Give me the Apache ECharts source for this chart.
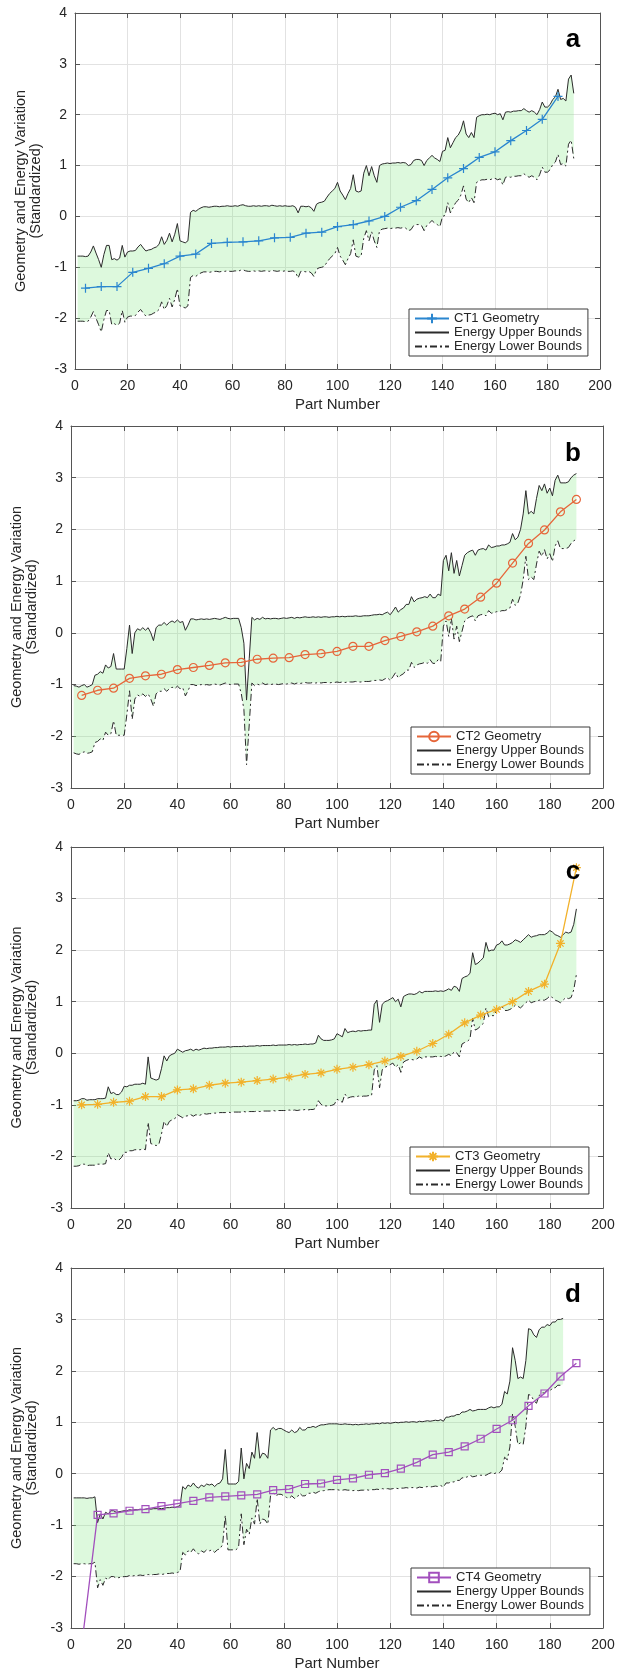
<!DOCTYPE html>
<html><head><meta charset="utf-8">
<script src="https://cdn.jsdelivr.net/npm/echarts@6/dist/echarts.min.js"></script>
<style>html,body{margin:0;padding:0;background:#fff}#c{width:626px;height:1672px}</style>
</head><body><div id="c"></div>
<script>
// ---------------- DATA ----------------
const xTicks = [0, 20, 40, 60, 80, 100, 120, 140, 160, 180, 200];
const yTicks = [-3, -2, -1, 0, 1, 2, 3, 4];
const energyParts = Array.from({length: 190}, (_, i) => i + 1);
const geometryParts = [4,10,16,22,28,34,40,46,52,58,64,70,76,82,88,94,100,106,112,118,124,130,136,142,148,154,160,166,172,178,184,190];

const ct1Geometry = [-1.41,-1.38,-1.38,-1.1,-1.02,-0.93,-0.78,-0.74,-0.53,-0.51,-0.5,-0.48,-0.42,-0.41,-0.33,-0.31,-0.2,-0.16,-0.09,0.0,0.18,0.31,0.53,0.76,0.94,1.16,1.27,1.49,1.69,1.91,2.36];
const ct2Geometry = [-1.21,-1.11,-1.07,-0.88,-0.83,-0.8,-0.71,-0.67,-0.63,-0.58,-0.57,-0.51,-0.49,-0.48,-0.42,-0.4,-0.36,-0.26,-0.26,-0.15,-0.07,0.02,0.13,0.33,0.46,0.69,0.96,1.35,1.73,1.99,2.34,2.58];
const ct3Geometry = [-1.0,-0.99,-0.95,-0.93,-0.84,-0.84,-0.71,-0.69,-0.62,-0.58,-0.56,-0.53,-0.5,-0.46,-0.41,-0.38,-0.31,-0.27,-0.22,-0.15,-0.06,0.04,0.19,0.37,0.59,0.74,0.85,1.0,1.2,1.34,2.13,3.6];
const ct4Geometry = [-3.35,-0.8,-0.77,-0.72,-0.69,-0.63,-0.58,-0.53,-0.46,-0.44,-0.42,-0.4,-0.32,-0.3,-0.2,-0.19,-0.12,-0.09,-0.02,0.01,0.1,0.22,0.37,0.42,0.53,0.68,0.87,1.04,1.32,1.56,1.89,2.15];

const ct1EnergyUpper = [
-0.78,-0.78,-0.78,-0.79,-0.78,-0.7,-0.58,-0.72,-0.85,-1.0,
-0.75,-0.57,-0.57,-0.85,-0.83,-0.86,-0.82,-0.57,-0.8,-0.7,
-0.68,-0.68,-0.67,-0.6,-0.55,-0.62,-0.68,-0.66,-0.65,-0.62,
-0.6,-0.55,-0.4,-0.55,-0.47,-0.33,-0.5,-0.35,-0.14,-0.48,
-0.5,-0.52,-0.48,0.08,0.12,0.1,0.14,0.17,0.19,0.19,
0.18,0.19,0.2,0.2,0.19,0.2,0.2,0.21,0.2,0.2,
0.21,0.2,0.22,0.23,0.21,0.2,0.2,0.21,0.2,0.21,
0.2,0.21,0.21,0.2,0.22,0.21,0.2,0.21,0.2,0.21,
0.2,0.2,0.21,0.18,0.07,0.2,0.2,0.19,0.2,0.17,
0.1,0.24,0.27,0.28,0.3,0.38,0.45,0.5,0.55,0.67,
0.5,0.42,0.33,0.45,0.55,0.82,0.5,0.48,0.5,0.85,
1.0,0.8,0.98,0.8,0.67,1.0,1.03,1.04,1.05,1.04,
1.05,1.05,1.06,1.05,1.06,1.05,1.0,1.02,1.1,1.12,
1.12,1.1,1.0,1.1,1.15,1.2,1.15,1.12,1.08,1.28,
1.3,1.55,1.35,1.45,1.55,1.6,1.7,1.88,1.62,1.55,
1.65,1.55,1.95,1.98,2.0,2.0,2.01,2.0,2.02,2.03,
2.0,2.02,1.9,2.05,2.06,2.05,2.07,2.07,2.08,2.08,
2.12,2.08,2.05,2.08,2.05,2.0,2.1,2.25,2.15,2.15,
2.2,2.3,2.35,2.5,2.3,2.32,2.27,2.7,2.78,2.42];
const ct1EnergyLower = [
-2.06,-2.06,-2.06,-2.07,-2.06,-1.98,-1.87,-2.0,-2.13,-2.27,
-2.03,-1.85,-1.85,-2.13,-2.11,-2.14,-2.1,-1.85,-2.08,-1.98,
-1.96,-1.96,-1.95,-1.88,-1.83,-1.9,-1.96,-1.94,-1.93,-1.9,
-1.88,-1.83,-1.68,-1.83,-1.75,-1.61,-1.78,-1.63,-1.42,-1.76,
-1.78,-1.8,-1.76,-1.2,-1.16,-1.18,-1.14,-1.11,-1.09,-1.09,
-1.1,-1.09,-1.08,-1.08,-1.09,-1.08,-1.08,-1.07,-1.08,-1.08,
-1.07,-1.08,-1.06,-1.05,-1.07,-1.08,-1.08,-1.07,-1.08,-1.07,
-1.08,-1.07,-1.07,-1.08,-1.06,-1.07,-1.08,-1.07,-1.08,-1.07,
-1.08,-1.08,-1.07,-1.1,-1.21,-1.08,-1.08,-1.09,-1.08,-1.11,
-1.18,-1.04,-1.01,-1.0,-0.98,-0.9,-0.83,-0.78,-0.73,-0.61,
-0.78,-0.86,-0.95,-0.83,-0.73,-0.46,-0.78,-0.8,-0.78,-0.43,
-0.28,-0.48,-0.3,-0.48,-0.61,-0.28,-0.25,-0.24,-0.23,-0.24,
-0.23,-0.23,-0.22,-0.23,-0.22,-0.23,-0.28,-0.26,-0.18,-0.16,
-0.16,-0.18,-0.28,-0.18,-0.13,-0.08,-0.13,-0.16,-0.2,0.0,
0.02,0.27,0.07,0.17,0.27,0.32,0.42,0.6,0.34,0.27,
0.37,0.27,0.67,0.7,0.72,0.72,0.73,0.72,0.74,0.75,
0.72,0.74,0.62,0.77,0.78,0.77,0.79,0.79,0.8,0.8,
0.84,0.8,0.77,0.8,0.77,0.72,0.82,0.97,0.87,0.87,
0.92,1.02,1.07,1.22,1.02,1.04,0.99,1.42,1.5,1.14];

const ct2EnergyUpper = [
-1.02,-1.03,-1.05,-1.02,-1.0,-1.05,-1.03,-1.0,-0.82,-0.8,
-0.75,-0.78,-0.62,-0.68,-0.65,-0.4,-0.7,-0.7,-0.7,-0.7,
-0.3,0.15,-0.4,0.0,0.08,0.05,0.1,0.05,0.1,0.0,
-0.15,0.1,0.15,0.15,0.2,0.15,0.2,0.23,0.2,0.25,
0.2,0.22,0.05,0.15,0.27,0.27,0.25,0.26,0.27,0.26,
0.27,0.26,0.27,0.28,0.27,0.26,0.28,0.3,0.28,0.27,
0.28,0.28,0.28,0.1,-0.2,-1.3,-0.5,0.3,0.25,0.28,
0.26,0.3,0.27,0.28,0.27,0.28,0.28,0.27,0.28,0.29,
0.28,0.29,0.3,0.28,0.3,0.29,0.3,0.31,0.3,0.3,
0.31,0.3,0.31,0.3,0.31,0.31,0.3,0.31,0.31,0.32,
0.31,0.32,0.31,0.32,0.32,0.32,0.33,0.32,0.32,0.33,
0.33,0.33,0.34,0.35,0.35,0.36,0.35,0.38,0.4,0.35,
0.42,0.5,0.4,0.45,0.48,0.55,0.55,0.7,0.6,0.65,
0.67,0.68,0.7,0.68,0.75,0.68,0.68,0.75,0.72,1.4,
1.5,1.2,1.55,1.15,1.4,1.1,1.3,1.5,1.55,1.58,
1.6,1.5,1.6,1.62,1.63,1.6,1.7,1.65,1.66,1.68,
1.68,1.7,1.7,1.72,1.75,1.92,1.8,1.85,2.0,2.3,
2.75,2.3,2.35,2.3,2.6,2.85,2.75,2.88,2.7,2.8,
2.65,2.95,3.05,2.9,2.9,2.9,2.92,3.0,3.05,3.08];
const ct2EnergyLower = [
-2.32,-2.34,-2.35,-2.32,-2.3,-2.33,-2.32,-2.3,-2.12,-2.1,
-2.05,-2.08,-1.92,-1.98,-1.95,-1.7,-1.98,-1.98,-1.98,-1.98,
-1.58,-1.12,-1.67,-1.28,-1.2,-1.23,-1.18,-1.23,-1.18,-1.28,
-1.42,-1.18,-1.13,-1.13,-1.08,-1.13,-1.08,-1.05,-1.08,-1.03,
-1.08,-1.06,-1.22,-1.12,-1.0,-1.0,-1.02,-1.01,-1.0,-1.01,
-1.0,-1.01,-1.0,-0.99,-1.0,-1.01,-0.99,-0.97,-0.99,-1.0,
-0.99,-0.99,-0.99,-1.17,-1.48,-2.55,-1.78,-0.97,-1.02,-0.99,
-1.01,-0.97,-1.0,-0.99,-1.0,-0.99,-0.99,-1.0,-0.99,-0.98,
-0.99,-0.98,-0.97,-0.99,-0.97,-0.98,-0.97,-0.96,-0.97,-0.97,
-0.96,-0.97,-0.96,-0.97,-0.96,-0.96,-0.97,-0.96,-0.96,-0.95,
-0.96,-0.95,-0.96,-0.95,-0.95,-0.95,-0.94,-0.95,-0.95,-0.94,
-0.94,-0.94,-0.93,-0.92,-0.92,-0.91,-0.92,-0.89,-0.87,-0.92,
-0.85,-0.77,-0.87,-0.82,-0.79,-0.72,-0.72,-0.57,-0.67,-0.62,
-0.6,-0.59,-0.57,-0.59,-0.52,-0.59,-0.59,-0.52,-0.55,0.13,
0.23,-0.07,0.28,-0.12,0.13,-0.17,0.03,0.23,0.28,0.31,
0.33,0.23,0.33,0.35,0.36,0.33,0.43,0.38,0.39,0.41,
0.41,0.43,0.43,0.45,0.48,0.65,0.53,0.58,0.73,1.03,
1.48,1.03,1.08,1.03,1.33,1.58,1.48,1.61,1.43,1.53,
1.38,1.68,1.78,1.63,1.63,1.63,1.65,1.73,1.78,1.81];

const ct3EnergyUpper = [
-0.92,-0.92,-0.91,-0.88,-0.88,-0.91,-0.9,-0.9,-0.9,-0.88,
-0.88,-0.88,-0.87,-0.65,-0.78,-0.76,-0.8,-0.8,-0.75,-0.64,
-0.65,-0.62,-0.62,-0.6,-0.6,-0.6,-0.58,-0.6,-0.07,-0.48,
-0.5,-0.52,-0.5,-0.3,-0.05,-0.15,-0.05,-0.02,0.0,0.08,
0.05,0.02,0.05,0.06,0.08,0.05,0.08,0.06,0.08,0.1,
0.09,0.1,0.1,0.11,0.11,0.12,0.12,0.12,0.13,0.12,
0.13,0.13,0.13,0.13,0.14,0.13,0.14,0.14,0.14,0.15,
0.14,0.15,0.15,0.15,0.15,0.16,0.15,0.16,0.16,0.16,
0.16,0.17,0.16,0.17,0.16,0.17,0.17,0.18,0.17,0.18,
0.18,0.2,0.35,0.28,0.25,0.25,0.25,0.26,0.28,0.38,
0.35,0.32,0.48,0.4,0.42,0.43,0.42,0.44,0.43,0.44,
0.44,0.45,0.45,0.95,1.03,0.6,0.95,1.0,1.02,1.05,
1.08,1.0,1.05,0.9,1.1,1.13,1.15,1.15,1.14,1.16,
1.2,1.17,1.2,1.2,1.2,1.2,1.21,1.2,1.21,1.2,
1.22,1.25,1.22,1.3,1.28,1.2,1.45,1.48,1.5,1.55,
1.95,1.72,1.75,1.8,1.85,2.15,1.98,2.0,2.0,2.1,
2.12,2.18,2.1,2.1,2.12,2.15,2.2,2.18,2.15,2.2,
2.25,2.3,2.25,2.27,2.28,2.3,2.3,2.3,2.33,2.38,
2.35,2.3,2.28,2.25,2.3,2.35,2.33,2.35,2.5,2.8];
const ct3EnergyLower = [
-2.19,-2.19,-2.18,-2.15,-2.15,-2.18,-2.17,-2.17,-2.17,-2.15,
-2.15,-2.15,-2.14,-1.93,-2.05,-2.03,-2.07,-2.07,-2.02,-1.92,
-1.92,-1.89,-1.89,-1.87,-1.87,-1.87,-1.85,-1.87,-1.34,-1.75,
-1.77,-1.79,-1.77,-1.57,-1.32,-1.42,-1.32,-1.29,-1.27,-1.19,
-1.22,-1.25,-1.22,-1.21,-1.19,-1.22,-1.19,-1.21,-1.19,-1.17,
-1.18,-1.17,-1.17,-1.16,-1.16,-1.15,-1.15,-1.15,-1.14,-1.15,
-1.14,-1.14,-1.14,-1.14,-1.13,-1.14,-1.13,-1.13,-1.13,-1.12,
-1.13,-1.12,-1.12,-1.12,-1.12,-1.11,-1.12,-1.11,-1.11,-1.11,
-1.11,-1.1,-1.11,-1.1,-1.11,-1.1,-1.1,-1.09,-1.1,-1.09,
-1.09,-1.07,-0.92,-0.99,-1.02,-1.02,-1.02,-1.01,-0.99,-0.89,
-0.92,-0.95,-0.79,-0.87,-0.85,-0.84,-0.85,-0.83,-0.84,-0.83,
-0.83,-0.82,-0.82,-0.32,-0.24,-0.67,-0.32,-0.27,-0.25,-0.22,
-0.19,-0.27,-0.22,-0.37,-0.17,-0.14,-0.12,-0.12,-0.13,-0.11,
-0.07,-0.1,-0.07,-0.07,-0.07,-0.07,-0.06,-0.07,-0.06,-0.07,
-0.05,-0.02,-0.05,0.03,0.01,-0.07,0.18,0.21,0.23,0.28,
0.68,0.45,0.48,0.53,0.58,0.88,0.71,0.73,0.73,0.83,
0.85,0.91,0.83,0.83,0.85,0.88,0.93,0.91,0.88,0.93,
0.98,1.03,0.98,1.0,1.01,1.03,1.03,1.03,1.06,1.11,
1.08,1.03,1.01,0.98,1.03,1.08,1.06,1.08,1.23,1.53];

const ct4EnergyUpper = [
-0.47,-0.47,-0.47,-0.47,-0.47,-0.48,-0.47,-0.47,-0.45,-0.95,
-0.78,-0.88,-0.75,-0.78,-0.72,-0.72,-0.75,-0.74,-0.73,-0.72,
-0.72,-0.7,-0.71,-0.7,-0.7,-0.69,-0.7,-0.69,-0.68,-0.69,
-0.68,-0.68,-0.67,-0.68,-0.67,-0.66,-0.66,-0.65,-0.66,-0.64,
-0.62,-0.25,-0.3,-0.22,-0.25,-0.18,-0.25,-0.28,-0.22,-0.25,
-0.2,-0.22,-0.2,-0.25,-0.2,-0.18,-0.1,0.47,-0.2,-0.2,
-0.2,-0.2,-0.15,0.5,-0.1,0.2,0.1,0.42,0.3,0.8,
0.3,0.4,0.38,0.3,0.85,0.9,0.85,0.88,0.88,0.85,
0.82,0.8,0.85,0.8,0.82,0.9,0.85,0.85,0.9,0.9,
0.92,0.9,0.93,0.95,0.95,0.96,0.97,0.97,0.97,0.97,
0.96,0.96,0.97,0.96,0.96,0.95,0.96,0.95,0.96,0.96,
0.97,0.96,0.97,0.97,0.98,0.97,0.99,0.98,0.99,0.98,
0.99,1.0,0.99,1.0,1.0,1.01,1.0,1.01,1.01,1.0,
1.02,1.01,1.02,1.03,1.02,1.03,1.04,1.03,1.05,1.02,
1.1,1.1,1.12,1.12,1.15,1.15,1.2,1.2,1.22,1.25,
1.22,1.23,1.25,1.25,1.25,1.25,1.28,1.3,1.28,1.3,
1.3,1.35,1.6,1.55,1.8,2.45,2.2,1.85,1.88,1.85,
2.2,2.82,2.8,2.7,2.65,2.8,2.85,2.85,2.9,2.88,
2.95,2.95,3.0,3.0,3.02];
const ct4EnergyLower = [
-1.75,-1.75,-1.76,-1.75,-1.75,-1.76,-1.75,-1.75,-1.72,-2.22,
-2.06,-2.17,-2.03,-2.06,-2.0,-2.0,-2.03,-2.02,-2.01,-2.0,
-2.0,-1.98,-1.99,-1.98,-1.98,-1.97,-1.98,-1.97,-1.96,-1.97,
-1.96,-1.96,-1.95,-1.96,-1.95,-1.94,-1.94,-1.93,-1.94,-1.92,
-1.9,-1.53,-1.58,-1.5,-1.53,-1.46,-1.53,-1.56,-1.5,-1.53,
-1.48,-1.5,-1.48,-1.53,-1.48,-1.46,-1.38,-0.81,-1.48,-1.48,
-1.48,-1.48,-1.43,-0.78,-1.38,-1.08,-1.18,-0.86,-0.98,-0.48,
-0.98,-0.88,-0.9,-0.98,-0.43,-0.38,-0.43,-0.4,-0.4,-0.43,
-0.46,-0.48,-0.43,-0.48,-0.46,-0.38,-0.43,-0.43,-0.38,-0.38,
-0.36,-0.38,-0.35,-0.33,-0.33,-0.32,-0.31,-0.31,-0.31,-0.31,
-0.32,-0.32,-0.31,-0.32,-0.32,-0.33,-0.32,-0.33,-0.32,-0.32,
-0.31,-0.32,-0.31,-0.31,-0.3,-0.31,-0.29,-0.3,-0.29,-0.3,
-0.29,-0.28,-0.29,-0.28,-0.28,-0.27,-0.28,-0.27,-0.27,-0.28,
-0.26,-0.27,-0.26,-0.25,-0.26,-0.25,-0.24,-0.25,-0.23,-0.26,
-0.18,-0.18,-0.16,-0.16,-0.13,-0.13,-0.08,-0.08,-0.06,-0.03,
-0.06,-0.05,-0.03,-0.03,-0.03,-0.03,0.0,0.02,0.0,0.02,
0.02,0.07,0.32,0.27,0.52,1.17,0.92,0.57,0.6,0.57,
0.92,1.54,1.52,1.42,1.37,1.52,1.57,1.57,1.62,1.6,
1.67,1.67,1.72,1.72,1.74];

const geometryNames = ['CT1 Geometry', 'CT2 Geometry', 'CT3 Geometry', 'CT4 Geometry'];
const panelLetters = ['a', 'b', 'c', 'd'];
const upperName = 'Energy Upper Bounds';
const lowerName = 'Energy Lower Bounds';

// ---------------- STYLE / LAYOUT ----------------
const FONT = '"Liberation Sans", Arial, Helvetica, sans-serif';
const TXT = '#262626';
const AXIS = '#555555';
const GRIDC = '#e2e2e2';
const ENERGY = '#2b2b2b';
const FILL = 'rgba(120,230,120,0.25)';
const NOFILL = 'rgba(0,0,0,0)';
const gridBoxes = [
  {left: 75, top: 13, width: 525, height: 356},
  {left: 71, top: 426, width: 532, height: 362},
  {left: 71, top: 847, width: 532, height: 361},
  {left: 71, top: 1268, width: 532, height: 362}
];
const yNameGaps = [32, 29, 29, 29];
const legendPos = [[409, 309], [411, 727], [410, 1147], [411, 1568]];
const letterPos = [[573, 40], [573, 454], [573, 872], [573, 1295]];
const geoStyles = [
  {color: '#2a86cf', symbol: 'path://M0,5L10,5M5,0L5,10', size: 9},
  {color: '#e6663a', symbol: 'circle', size: 8},
  {color: '#f2b12a', symbol: 'path://M0,5L10,5M5,0L5,10M1.5,1.5L8.5,8.5M8.5,1.5L1.5,8.5', size: 9},
  {color: '#a24fbd', symbol: 'rect', size: 7}
];
const geoData = [ct1Geometry, ct2Geometry, ct3Geometry, ct4Geometry];
const upData = [ct1EnergyUpper, ct2EnergyUpper, ct3EnergyUpper, ct4EnergyUpper];
const loData = [ct1EnergyLower, ct2EnergyLower, ct3EnergyLower, ct4EnergyLower];

const pairs = (xs, ys) => ys.map((y, i) => [xs[i], y]);

const grid = [], xAxis = [], yAxis = [], series = [], legend = [], graphic = [];
gridBoxes.forEach((g, i) => {
  grid.push(Object.assign({containLabel: false}, g));
  const xBase = {gridIndex: i, type: 'value', min: xTicks[0], max: xTicks[xTicks.length - 1], interval: 20};
  const yBase = {gridIndex: i, type: 'value', min: yTicks[0], max: yTicks[yTicks.length - 1], interval: 1};
  const line = {show: true, onZero: false, lineStyle: {color: AXIS, width: 1}};
  const tick = {show: true, inside: true, length: 5, lineStyle: {color: AXIS}};
  xAxis.push(Object.assign({}, xBase, {
    position: 'bottom', axisLine: line, axisTick: tick,
    axisLabel: {fontSize: 14, color: TXT, fontFamily: FONT, margin: 10},
    splitLine: {show: true, lineStyle: {color: GRIDC, width: 1}},
    name: 'Part Number', nameLocation: 'middle', nameGap: 28,
    nameTextStyle: {fontSize: 15, color: TXT, fontFamily: FONT}
  }));
  xAxis.push(Object.assign({}, xBase, {
    position: 'top', axisLine: line, axisTick: tick,
    axisLabel: {show: false}, splitLine: {show: false}
  }));
  yAxis.push(Object.assign({}, yBase, {
    position: 'left', axisLine: line, axisTick: tick,
    axisLabel: {fontSize: 14, color: TXT, fontFamily: FONT, margin: 8},
    splitLine: {show: true, lineStyle: {color: GRIDC, width: 1}},
    name: 'Geometry and Energy Variation\n(Standardized)', nameLocation: 'middle', nameGap: yNameGaps[i],
    nameRotate: 90,
    nameTextStyle: {fontSize: 14.5, lineHeight: 15, color: TXT, fontFamily: FONT}
  }));
  yAxis.push(Object.assign({}, yBase, {
    position: 'right', axisLine: line, axisTick: tick,
    axisLabel: {show: false}, splitLine: {show: false}
  }));

  const ax = {xAxisIndex: 2 * i, yAxisIndex: 2 * i};
  const up = upData[i], lo = loData[i];
  // green band between the energy bounds, drawn through the axis scales
  series.push(Object.assign({
    name: 'band ' + panelLetters[i], type: 'custom', data: [[energyParts[0], lo[0]]],
    silent: true, z: 1, animation: false, clip: true,
    renderItem: (params, api) => {
      const pts = [];
      for (let k = 0; k < up.length; k++) pts.push(api.coord([energyParts[k], up[k]]));
      for (let k = lo.length - 1; k >= 0; k--) pts.push(api.coord([energyParts[k], lo[k]]));
      return {type: 'polygon', shape: {points: pts}, style: {fill: FILL, stroke: null}};
    }
  }, ax));
  series.push(Object.assign({
    name: lowerName, type: 'line', data: pairs(energyParts, lo),
    symbol: 'none', showSymbol: false,
    lineStyle: {color: ENERGY, width: 1, type: [7, 3, 2, 3]}, itemStyle: {color: NOFILL},
    z: 3, silent: true, animation: false
  }, ax));
  series.push(Object.assign({
    name: upperName, type: 'line', data: pairs(energyParts, up),
    symbol: 'none', showSymbol: false,
    lineStyle: {color: ENERGY, width: 1}, itemStyle: {color: NOFILL},
    z: 3, silent: true, animation: false
  }, ax));
  const gs = geoStyles[i];
  series.push(Object.assign({
    name: geometryNames[i], type: 'line', data: pairs(geometryParts, geoData[i]),
    symbol: gs.symbol, symbolSize: gs.size, showSymbol: true, showAllSymbol: true,
    lineStyle: {color: gs.color, width: 1.3},
    itemStyle: {color: NOFILL, borderColor: gs.color, borderWidth: 1.2},
    z: 5, clip: true, silent: true, animation: false
  }, ax));

  legend.push({
    data: [
      {name: geometryNames[i]},
      {name: upperName, itemStyle: {opacity: 0}},
      {name: lowerName, itemStyle: {opacity: 0}}
    ],
    orient: 'vertical', left: legendPos[i][0], top: legendPos[i][1],
    itemWidth: 34, itemHeight: 12, itemGap: 1,
    padding: [3, 6, 3, 5],
    backgroundColor: '#ffffff', borderColor: '#3a3a3a', borderWidth: 1,
    textStyle: {fontSize: 13, color: TXT, fontFamily: FONT},
    selectedMode: false
  });

  graphic.push({
    type: 'text', x: letterPos[i][0], y: letterPos[i][1], z: 100,
    style: {text: panelLetters[i], font: 'bold 26px "Liberation Sans", Arial, sans-serif', fill: '#000', align: 'center', verticalAlign: 'middle'}
  });
});

const chart = echarts.init(document.getElementById('c'), null, {renderer: 'canvas'});
chart.setOption({
  backgroundColor: '#ffffff',
  animation: false,
  textStyle: {fontFamily: FONT},
  grid, xAxis, yAxis, series, legend, graphic
});
</script></body></html>
